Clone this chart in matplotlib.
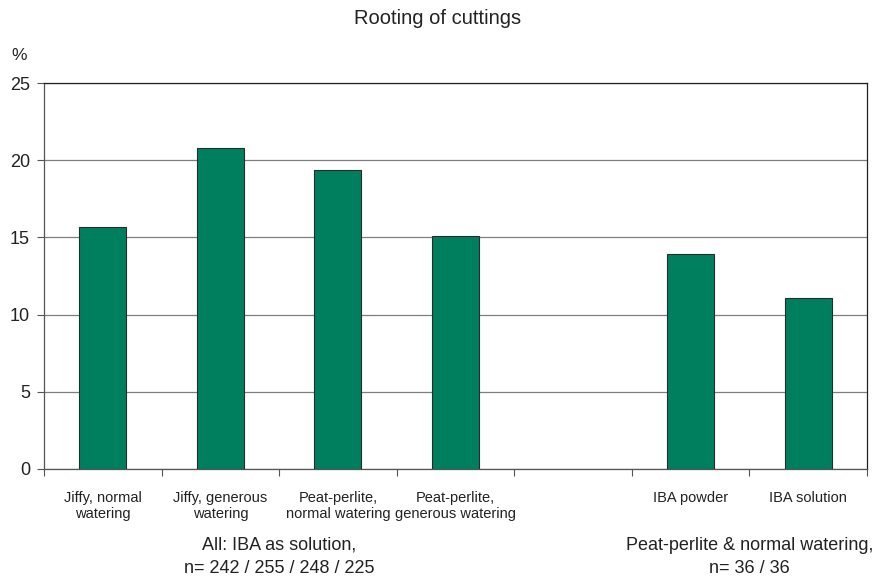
import matplotlib.pyplot as plt
import numpy as np

plt.rcParams["font.family"] = ["Liberation Sans", "DejaVu Sans"]

# rooting percentage per treatment; empty slot separates the two trials
labels = ["Jiffy, normal\nwatering", "Jiffy, generous\nwatering",
          "Peat-perlite,\nnormal watering", "Peat-perlite,\ngenerous watering",
          "", "IBA powder", "IBA solution"]
rooting = [15.7, 20.8, 19.4, 15.1, np.nan, 13.9, 11.1]
yticks = [0, 5, 10, 15, 20, 25]
group_left = "All: IBA as solution,\nn= 242 / 255 / 248 / 225"
group_right = "Peat-perlite & normal watering,\nn= 36 / 36"

green = "#007F5F"
txt = "#222222"

fig = plt.figure(figsize=(8.75, 5.81), dpi=100)
ax = fig.add_axes([0.0503, 0.1928, 0.9406, 0.6642])

x = np.arange(len(labels))
ax.bar(x, rooting, width=0.4, color=green, edgecolor="#2a2a2a", linewidth=0.8, zorder=3)

ax.set_xlim(-0.5, len(labels) - 0.5)
ax.set_ylim(0, 25)
ax.set_yticks(yticks)
ax.tick_params(axis="y", labelsize=13, length=5, width=0.8, color="#555555", pad=5,
               labelcolor=txt)
ax.yaxis.grid(True, color="#7f7f7f", linewidth=0.9, zorder=0)

# ticks between categories, labels drawn separately
ax.set_xticks(np.arange(len(labels) + 1) - 0.5)
ax.set_xticklabels([])
ax.tick_params(axis="x", length=5, width=0.8, color="#555555")

for i, lab in enumerate(labels):
    if lab:
        ax.text(i, -1.4, lab, ha="center", va="top", fontsize=10.5, color=txt,
                linespacing=1.2)

ax.text(1.5, -4.4, group_left, ha="center", va="top", fontsize=13, color=txt,
        linespacing=1.45)
ax.text(5.5, -4.4, group_right, ha="center", va="top", fontsize=13, color=txt,
        linespacing=1.45)

for side in ["top", "right"]:
    ax.spines[side].set_color("#222222")
    ax.spines[side].set_linewidth(0.9)
for side in ["left", "bottom"]:
    ax.spines[side].set_color("#555555")
    ax.spines[side].set_linewidth(0.9)

fig.text(0.5, 0.968, "Rooting of cuttings", ha="center", va="center", fontsize=14.5,
         color=txt)
fig.text(0.013, 0.905, "%", ha="left", va="center", fontsize=12.5, color=txt)

fig.savefig("out.png", dpi=100)
